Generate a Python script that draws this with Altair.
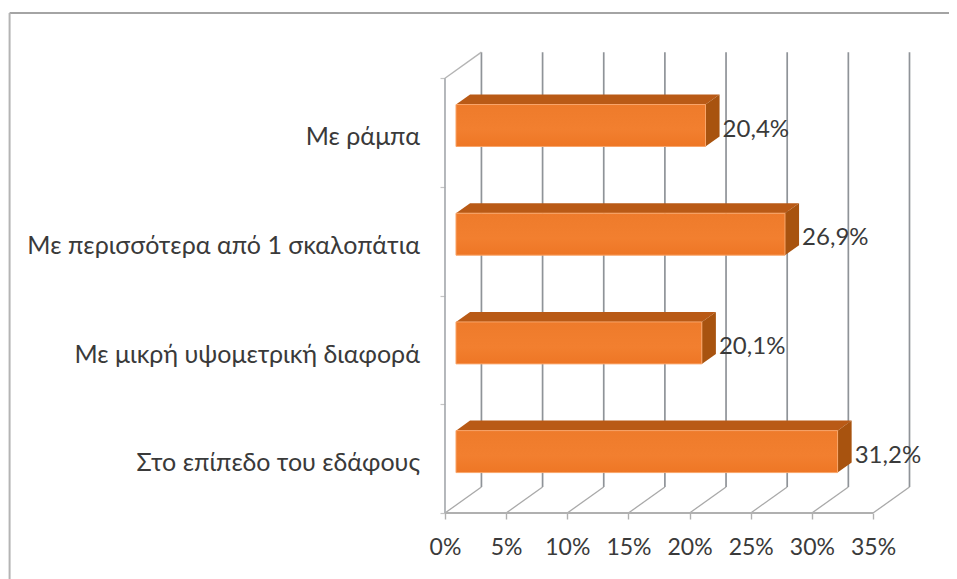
import altair as alt
import pandas as pd

categories = ["Στο επίπεδο του εδάφους", "Με μικρή υψομετρική διαφορά",
              "Με περισσότερα από 1 σκαλοπάτια", "Με ράμπα"]
values = [31.2, 20.1, 26.9, 20.4]
value_labels = ["31,2%", "20,1%", "26,9%", "20,4%"]
ticks = [0, 5, 10, 15, 20, 25, 30, 35]
slots = [0, 1, 2, 3, 4]

FONT = "Lato, Noto Sans, sans-serif"
TXT = "#3a3a3a"
DX, DY = 2.98, 0.24        # wall depth (axis units)
BX0, BDX, BDY = 0.9, 1.15, 0.092   # bar inset and bar depth
BC, BH = 0.565, 0.193      # bar centre within its slot, half height

xs = alt.Scale(domain=[-35.73, 41.21], nice=False, zero=False)
ys = alt.Scale(domain=[-0.607, 4.646], nice=False, zero=False)
X = lambda f: alt.X(f, type="quantitative", scale=xs, title=None)
Y = lambda f: alt.Y(f, type="quantitative", scale=ys, title=None)

bars = pd.DataFrame({"cat": categories, "v": values, "lab": value_labels, "slot": range(4)})
bars["x0"] = BX0
bars["x1"] = BX0 + bars.v
bars["yb"] = bars.slot + BC - BH
bars["yt"] = bars.slot + BC + BH
bars["yl"] = bars.slot + BC - 0.108
bars["xl"] = bars.x1 + BDX + 0.25
bars["ylab"] = bars.slot + BC - 0.038

top = pd.concat([
    bars.assign(y=bars.yt, xa=bars.x0, xb=bars.x1),
    bars.assign(y=bars.yt + BDY, xa=bars.x0 + BDX, xb=bars.x1 + BDX),
])
side = pd.concat([
    bars.assign(x=bars.x1, ya=bars.yb, yz=bars.yt),
    bars.assign(x=bars.x1 + BDX, ya=bars.yb + BDY, yz=bars.yt + BDY),
])

tk = pd.DataFrame({"v": ticks})
tk["b"] = tk.v + DX
tk["y0"] = 0.0
tk["y1"] = DY
tk["y2"] = 4 + DY

frame = pd.DataFrame({"x0": [-35.6], "x1": [41.21], "y0": [-0.607], "y1": [4.6]})

border_top = alt.Chart(frame).mark_rule(color="#a4a4a4", strokeWidth=1.8).encode(
    x=X("x0"), x2="x1", y=Y("y1"))
border_left = alt.Chart(frame).mark_rule(color="#b4b4b4", strokeWidth=2).encode(
    x=X("x0"), y=Y("y0"), y2="y1")

back = alt.Chart(tk).mark_rule(color="#8f9398", strokeWidth=1.7).encode(
    x=X("b"), y=Y("y1"), y2="y2")
floor = alt.Chart(tk).mark_rule(color="#a9a9a9", strokeWidth=1.3).encode(
    x=X("v"), x2="b", y=Y("y0"), y2="y1")

wall = pd.DataFrame({"x": [0.0], "xb": [DX], "y0": [0.0], "y1": [4.0], "y2": [4 + DY], "xe": [35.0]})
left_wall = alt.Chart(wall).mark_rule(color="#a8acb0", strokeWidth=1.7).encode(
    x=X("x"), y=Y("y0"), y2="y1")
left_top = alt.Chart(wall).mark_rule(color="#b4b4b4", strokeWidth=1.4).encode(
    x=X("x"), x2="xb", y=Y("y1"), y2="y2")
front_axis = alt.Chart(wall).mark_rule(color="#b0b0b0", strokeWidth=2).encode(
    x=X("x"), x2="xe", y=Y("y0"))

face_top = alt.Chart(top).mark_area(orient="horizontal", color="#b95a16").encode(
    y=Y("y"), x=X("xa"), x2="xb", detail="cat:N")
face_side = alt.Chart(side).mark_area(orient="vertical", color="#a8530f").encode(
    x=X("x"), y=Y("ya"), y2="yz", detail="cat:N")
face_front = alt.Chart(bars).mark_rect(
    stroke="#f9a56a", strokeWidth=1,
    color=alt.Gradient(gradient="linear", x1=0, y1=0, x2=0, y2=1,
                       stops=[alt.GradientStop(color="#ee7b2b", offset=0),
                              alt.GradientStop(color="#f27f2f", offset=0.6),
                              alt.GradientStop(color="#ee7625", offset=1)]),
).encode(x=X("x0"), x2="x1", y=Y("yb"), y2="yt")

val_text = alt.Chart(bars).mark_text(align="left", baseline="middle", font=FONT, fontSize=24, color=TXT).encode(
    x=X("xl"), y=Y("ylab"), text="lab:N")
cat_bars = bars.assign(xc=0.0)
cat_text = alt.Chart(cat_bars).mark_text(align="right", baseline="middle", font=FONT, fontSize=25, color=TXT, dx=-25).encode(
    x=X("xc"), y=Y("yl"), text="cat:N")

axis_x = alt.Chart(tk).mark_point(opacity=0).encode(
    x=alt.X("v:Q", scale=xs, title=None, axis=alt.Axis(
        values=ticks, labelExpr="datum.value + '%'", offset=-66, domain=False, grid=False,
        tickColor="#b0b0b0", tickSize=6, tickWidth=1.4, labelFont=FONT, labelFontSize=23,
        labelColor=TXT, labelPadding=17, labelFlush=False, labelOverlap=False)),
    y=alt.Y("y0:Q", scale=ys, title=None, axis=alt.Axis(
        values=slots, labels=False, offset=-437, domain=False, grid=False,
        tickColor="#c4c4c4", tickSize=5, tickWidth=1.2)),
)

chart = alt.layer(axis_x, border_top, border_left, back, floor, left_wall, left_top, front_axis,
                  face_top, face_side, face_front, val_text, cat_text).properties(
    width=941, height=571, padding=0, background="white",
    autosize=alt.AutoSizeParams(type="none"),
).configure_view(stroke=None)

chart.save("out.html", embed_options={"renderer": "svg", "actions": False})
